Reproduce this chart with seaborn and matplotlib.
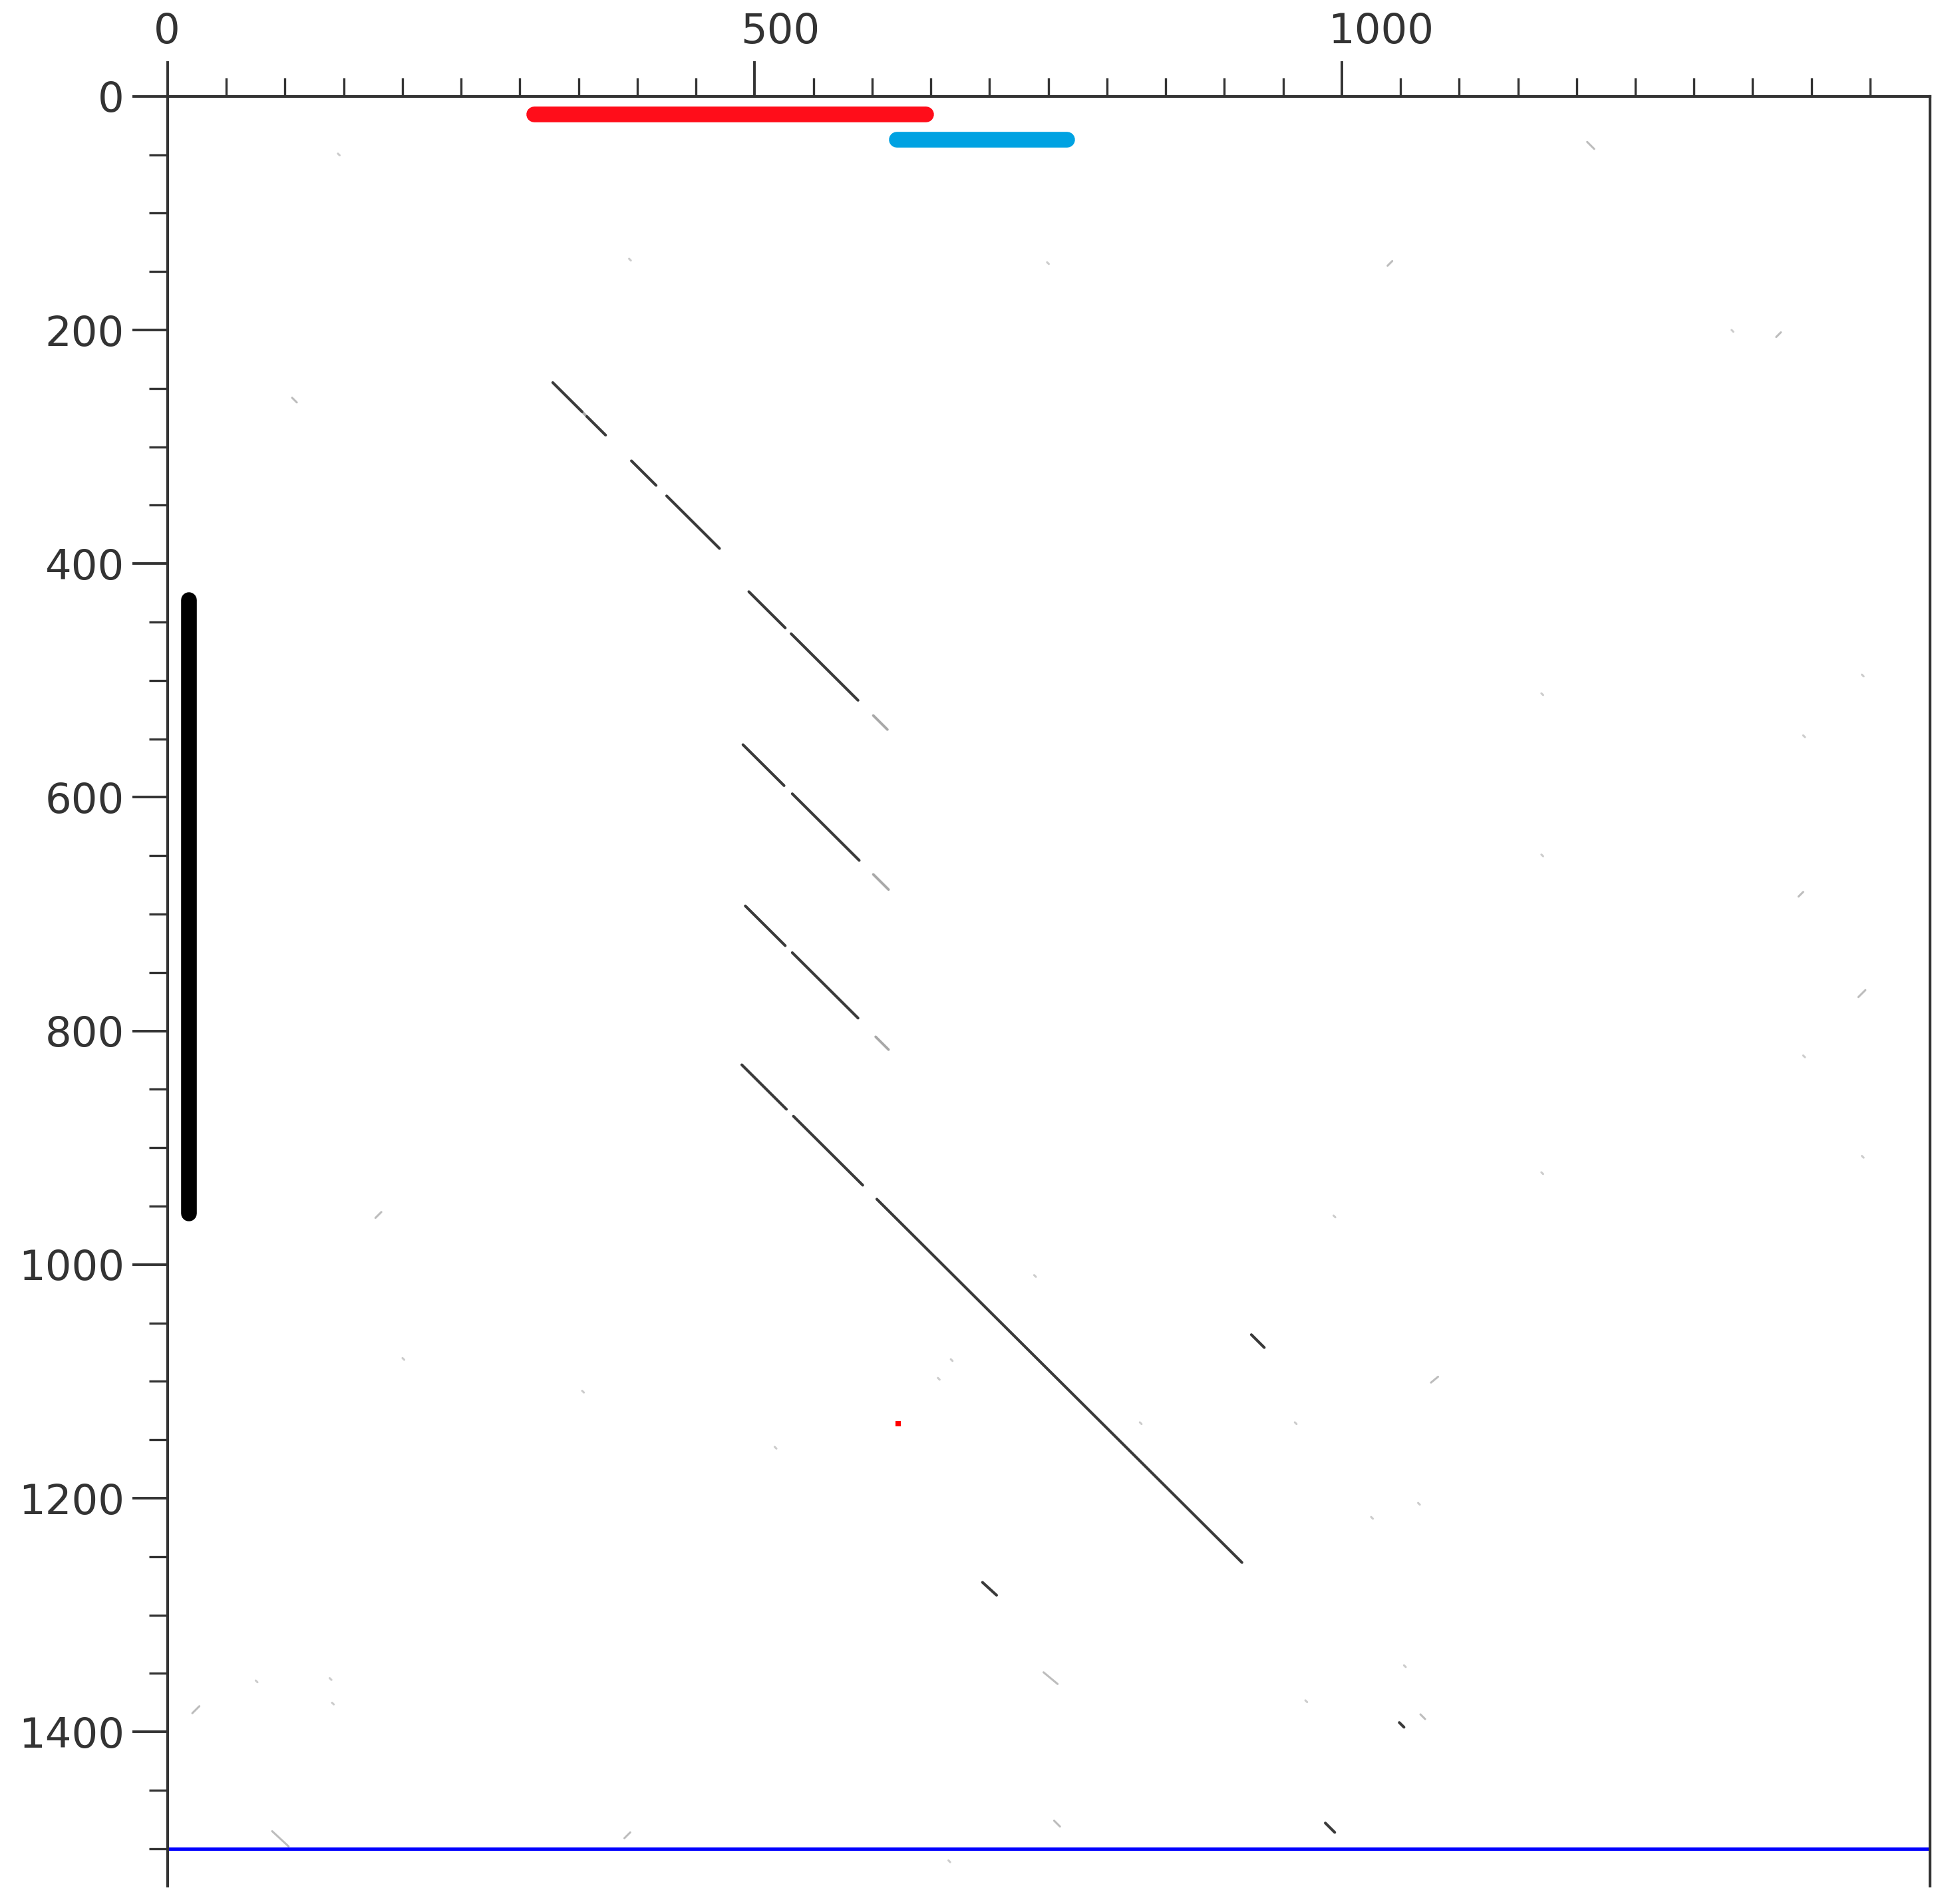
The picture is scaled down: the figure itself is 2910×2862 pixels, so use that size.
import matplotlib
matplotlib.use("Agg")
import matplotlib.pyplot as plt
import matplotlib.transforms as mtransforms
import seaborn as sns
import pandas as pd
from matplotlib.ticker import FixedLocator

# ---------------- data (sequence units) ----------------
# annotation bars (round-capped)
red_bar_x = [312, 646]
red_bar_y = [15.7, 15.7]
blue_bar_x = [621, 766]
blue_bar_y = [36.9, 36.9]
black_bar_x = [18, 18]
black_bar_y = [431, 956]

# dark diagonal match segments (x0, y0) -> (x1, y1)
dark_x0 = [328, 357, 395, 425, 495, 531, 490, 532, 492, 532, 489, 533, 604, 923, 694, 986, 1049]
dark_y0 = [245, 274, 312, 342, 424, 460, 555, 597, 693, 733, 829, 873, 944, 1060, 1272, 1478, 1392]
dark_x1 = [353, 373, 416, 470, 526, 588, 525, 589, 526, 588, 527, 592, 915, 934, 706, 994, 1053]
dark_y1 = [270, 290, 333, 387, 455, 517, 590, 654, 727, 789, 867, 932, 1255, 1071, 1283, 1486, 1396]

# faint tails of the diagonals
mid_x0 = [353, 601, 601, 603]
mid_y0 = [270, 530, 666, 805]
mid_x1 = [357, 613, 614, 614]
mid_y1 = [274, 542, 679, 816]

# light short background matches
light_x0 = [746, 89, 755, 1209, 106, 1067, 1082, 1043, 1374, 1393, 1446, 182, 27, 394]
light_y0 = [1349, 1485, 1476, 39, 258, 1385, 1096, 141, 202, 681, 765, 955, 1378, 1486]
light_x1 = [758, 103, 760, 1215, 110, 1071, 1076, 1039, 1370, 1389, 1440, 177, 21, 389]
light_y1 = [1359, 1498, 1481, 45, 262, 1389, 1101, 145, 206, 685, 771, 960, 1384, 1491]

# isolated faint dots
dot_x = [145, 393, 749, 1332, 1443, 1170, 1393, 1170, 1393, 1170, 1443, 993, 738, 200,
         353, 517, 828, 960, 1025, 1065, 1053, 969, 75, 138, 140, 665, 656, 667]
dot_y = [49, 139, 142, 200, 495, 511, 547, 649, 821, 921, 907, 958, 1009, 1080,
         1108, 1156, 1135, 1135, 1216, 1204, 1343, 1373, 1356, 1354, 1375, 1510, 1097, 1081]

red_dot_x = [622]
red_dot_y = [1136]

baseline_y = 1500

x_major = [0, 500, 1000]
x_minor = list(range(50, 1451, 50))
y_major = list(range(0, 1401, 200))
y_minor = list(range(0, 1501, 50))


def seg_frame(x0, y0, x1, y1, prefix):
    rows = []
    for i, (a, b, c, d) in enumerate(zip(x0, y0, x1, y1)):
        rows.append({"seg": f"{prefix}{i}", "x": a, "y": b})
        rows.append({"seg": f"{prefix}{i}", "x": c, "y": d})
    return pd.DataFrame(rows)


sns.set_style("white")
plt.rcParams["font.family"] = ["DejaVu Sans"]

fig = plt.figure(figsize=(14.55, 14.31), dpi=200)
ax = fig.add_axes([0.0866, 0.0094, 0.9103, 0.9400])

common = dict(units="seg", estimator=None, sort=False, legend=False, ax=ax)

sns.lineplot(data=seg_frame(light_x0, light_y0, light_x1, light_y1, "l"), x="x", y="y",
             color="#bdbdbd", linewidth=1.1, **common)
sns.lineplot(data=seg_frame(dot_x, dot_y, [v + 1.5 for v in dot_x], [v + 1.5 for v in dot_y], "d"),
             x="x", y="y", color="#cccccc", linewidth=1.1, **common)
sns.lineplot(data=seg_frame(mid_x0, mid_y0, mid_x1, mid_y1, "m"), x="x", y="y",
             color="#a8a8a8", linewidth=1.4, **common)
sns.lineplot(data=seg_frame(dark_x0, dark_y0, dark_x1, dark_y1, "k"), x="x", y="y",
             color="#3a3a3a", linewidth=1.5, **common)

bars = pd.DataFrame({
    "x": red_bar_x + blue_bar_x + black_bar_x,
    "y": red_bar_y + blue_bar_y + black_bar_y,
    "seg": ["red"] * 2 + ["blue"] * 2 + ["black"] * 2,
})
sns.lineplot(data=bars, x="x", y="y", hue="seg", units="seg", estimator=None, sort=False,
             palette={"red": "#ff0d1a", "blue": "#00a2e2", "black": "#000000"},
             linewidth=8.5, solid_capstyle="round", legend=False, ax=ax)

sns.scatterplot(x=red_dot_x, y=red_dot_y, color="#ff0000", s=8, marker="s", linewidth=0, ax=ax)

ax.axhline(baseline_y, color="#0000ff", linewidth=1.8, zorder=1)

ax.set_xlim(0, 1501)
ax.set_ylim(1532, 0)
ax.set_xlabel("")
ax.set_ylabel("")

ax.xaxis.tick_top()
ax.set_xticks(x_major)
ax.xaxis.set_minor_locator(FixedLocator(x_minor))
ax.set_yticks(y_major)
ax.yaxis.set_minor_locator(FixedLocator(y_minor))

tick_col = "#333333"
ax.tick_params(axis="x", which="major", top=True, bottom=False, labeltop=True, labelbottom=False,
               length=19, width=1.4, pad=5, direction="out", color=tick_col,
               labelsize=22.5, labelcolor=tick_col)
ax.tick_params(axis="x", which="minor", top=True, bottom=False, length=10, width=1.2,
               direction="out", color=tick_col)
ax.tick_params(axis="y", which="major", left=True, right=False, length=19, width=1.4, pad=4.5,
               direction="out", color=tick_col, labelsize=22.5, labelcolor=tick_col)
ax.tick_params(axis="y", which="minor", left=True, right=False, length=10, width=1.2,
               direction="out", color=tick_col)

# top labels: first digit centred on its tick
shift = mtransforms.ScaledTranslation(-7.5 / 72, 0, fig.dpi_scale_trans)
for lab in ax.get_xticklabels():
    lab.set_horizontalalignment("left")
    lab.set_transform(lab.get_transform() + shift)

for side in ["top", "left", "right"]:
    ax.spines[side].set_visible(True)
    ax.spines[side].set_color(tick_col)
    ax.spines[side].set_linewidth(1.5)
ax.spines["bottom"].set_visible(False)
ax.grid(False)

fig.savefig("out.png", dpi=200, facecolor="white")
